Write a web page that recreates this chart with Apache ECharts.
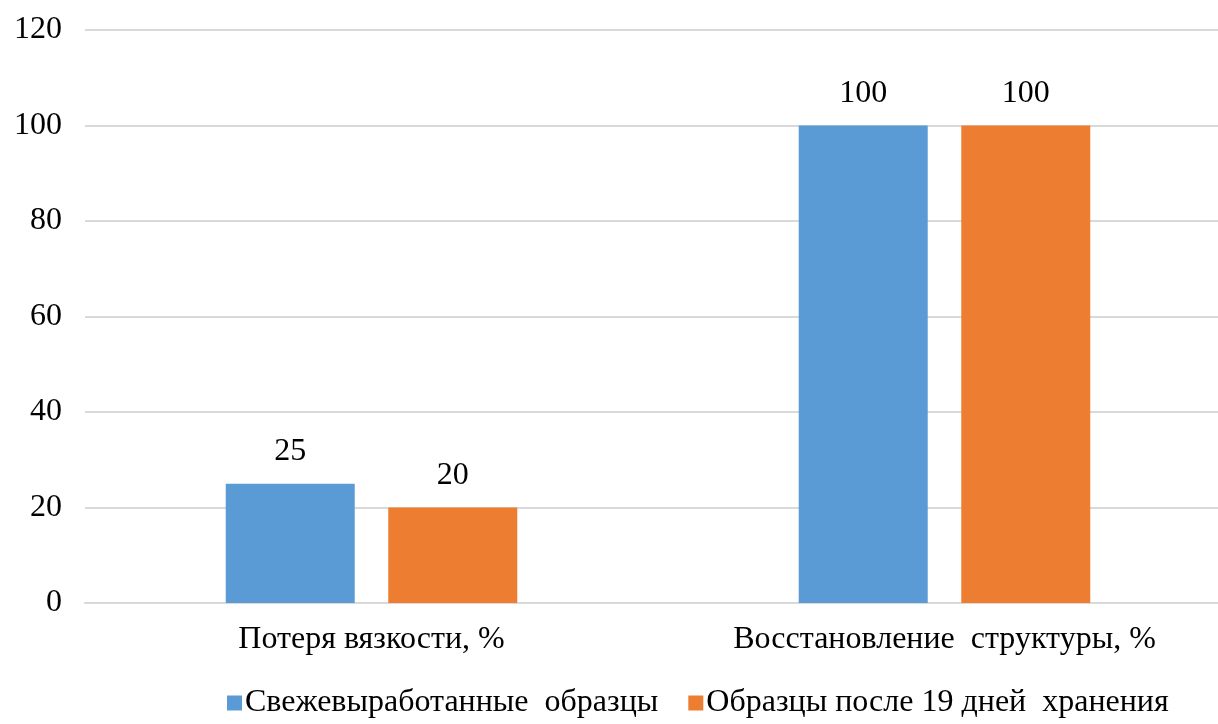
<!DOCTYPE html>
<html>
<head>
<meta charset="utf-8">
<script src="https://cdn.jsdelivr.net/npm/echarts@6/dist/echarts.min.js"></script>
<style>
    html, body { margin: 0; padding: 0; background: #fff; }
    #chart { width: 1218px; height: 724px; }
</style>
</head>
<body>
<div id="chart"></div>
<script>
var categories = ['Потеря вязкости, %', 'Восстановление  структуры, %'];
var freshName = 'Свежевыработанные  образцы';
var storedName = 'Образцы после 19 дней  хранения';
var freshValues = [25, 100];
var storedValues = [20, 100];

var font = '"Liberation Serif", "Times New Roman", serif';

var chart = echarts.init(document.getElementById('chart'));
chart.setOption({
    animation: false,
    textStyle: { fontFamily: font },
    grid: { left: 85, right: -13, top: 30, bottom: 121, containLabel: false, outerBoundsMode: 'none' },
    legend: {
        left: 222,
        bottom: 0,
        itemWidth: 15,
        itemHeight: 15,
        itemGap: 30,
        icon: 'rect',
        textStyle: { fontFamily: font, fontSize: 32, color: '#000', padding: [0, 0, 0, -2] },
        data: [freshName, storedName]
    },
    xAxis: {
        type: 'category',
        data: categories,
        axisTick: { show: false },
        axisLine: { lineStyle: { color: '#d9d9d9', width: 2 } },
        axisLabel: { fontFamily: font, fontSize: 32, color: '#000', margin: 21 }
    },
    yAxis: {
        type: 'value',
        min: 0,
        max: 120,
        interval: 20,
        axisLine: { show: false },
        axisTick: { show: false },
        splitLine: { lineStyle: { color: '#d9d9d9', width: 2 } },
        axisLabel: { fontFamily: font, fontSize: 32, color: '#000', margin: 23 }
    },
    series: [
        {
            name: freshName,
            type: 'bar',
            data: freshValues,
            barWidth: 129,
            barGap: '26%',
            itemStyle: { color: '#5b9bd5' },
            label: { show: true, position: 'top', distance: 16, fontFamily: font, fontSize: 32, color: '#000' }
        },
        {
            name: storedName,
            type: 'bar',
            data: storedValues,
            barWidth: 129,
            itemStyle: { color: '#ed7d31' },
            label: { show: true, position: 'top', distance: 16, fontFamily: font, fontSize: 32, color: '#000' }
        }
    ]
});
</script>
</body>
</html>
